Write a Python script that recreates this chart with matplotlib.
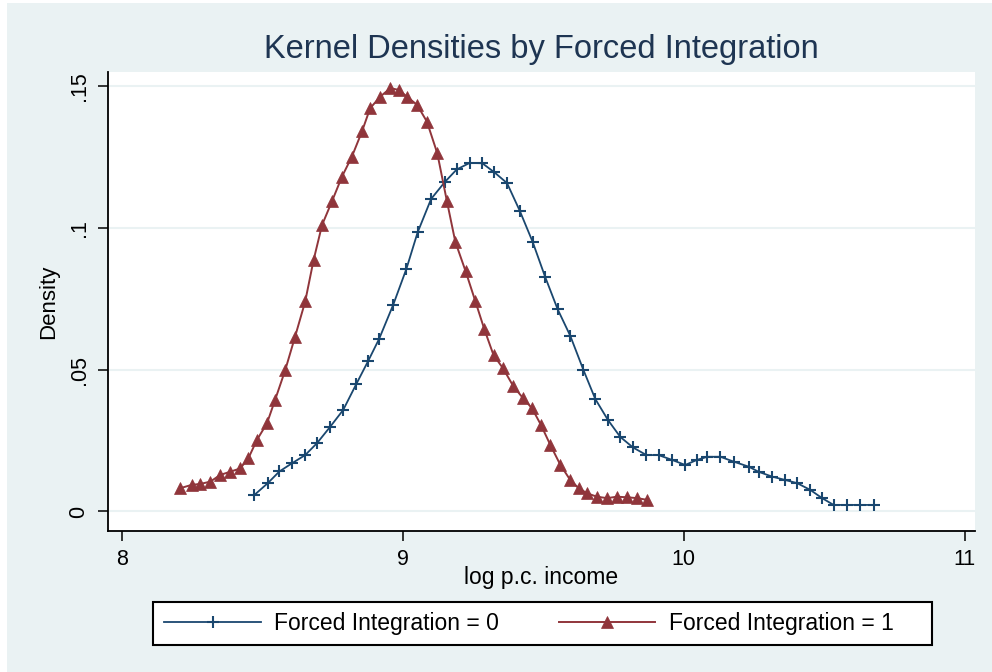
import numpy as np
import matplotlib
matplotlib.use("Agg")
import matplotlib.pyplot as plt
from matplotlib.patches import Rectangle

plt.rcParams['font.family'] = ['Liberation Sans', 'DejaVu Sans']

# Forced Integration = 0 (kdensity, 50 points)
x_fi0 = [8.472, 8.520, 8.561, 8.606, 8.653, 8.695, 8.742, 8.788, 8.835, 8.877,
         8.916, 8.966, 9.013, 9.053, 9.101, 9.150, 9.192, 9.238, 9.283, 9.326,
         9.371, 9.416, 9.462, 9.507, 9.551, 9.596, 9.643, 9.685, 9.730, 9.774,
         9.819, 9.867, 9.910, 9.958, 10.005, 10.047, 10.084, 10.130, 10.177, 10.231,
         10.266, 10.314, 10.361, 10.403, 10.450, 10.492, 10.533, 10.581, 10.628, 10.675]
y_fi0 = [0.0058, 0.0100, 0.0141, 0.0170, 0.0199, 0.0241, 0.0299, 0.0358, 0.0450, 0.0531,
         0.0609, 0.0729, 0.0856, 0.0985, 0.1103, 0.1163, 0.1207, 0.1230, 0.1229, 0.1197,
         0.1159, 0.1062, 0.0952, 0.0827, 0.0714, 0.0620, 0.0499, 0.0397, 0.0323, 0.0263,
         0.0226, 0.0199, 0.0199, 0.0182, 0.0164, 0.0182, 0.0193, 0.0193, 0.0176, 0.0158,
         0.0140, 0.0123, 0.0111, 0.0100, 0.0076, 0.0047, 0.0023, 0.0023, 0.0023, 0.0023]

# Forced Integration = 1
x_fi1 = [8.208, 8.250, 8.279, 8.315, 8.351, 8.386, 8.422, 8.451, 8.481, 8.517,
         8.546, 8.582, 8.617, 8.653, 8.683, 8.713, 8.748, 8.784, 8.819, 8.855,
         8.884, 8.920, 8.956, 8.985, 9.015, 9.051, 9.086, 9.123, 9.157, 9.187,
         9.224, 9.258, 9.290, 9.323, 9.357, 9.394, 9.428, 9.460, 9.492, 9.525,
         9.561, 9.596, 9.626, 9.656, 9.691, 9.727, 9.762, 9.798, 9.834, 9.869]
y_fi1 = [0.0082, 0.0094, 0.0097, 0.0105, 0.0129, 0.0140, 0.0152, 0.0188, 0.0252, 0.0311,
         0.0394, 0.0499, 0.0617, 0.0741, 0.0888, 0.1011, 0.1094, 0.1182, 0.1252, 0.1341,
         0.1423, 0.1464, 0.1494, 0.1488, 0.1464, 0.1435, 0.1376, 0.1264, 0.1096, 0.0952,
         0.0847, 0.0743, 0.0644, 0.0552, 0.0505, 0.0441, 0.0400, 0.0364, 0.0305, 0.0235,
         0.0164, 0.0111, 0.0082, 0.0064, 0.0052, 0.0047, 0.0052, 0.0050, 0.0047, 0.0041]

xticks = [8, 9, 10, 11]
yticks = [0, 0.05, 0.1, 0.15]
ytick_labels = ['0', '.05', '.1', '.15']

bg = '#eaf2f3'
navy = '#1a476f'
maroon = '#90353b'

fig = plt.figure(figsize=(9.92, 6.72), dpi=100, facecolor='white')
fig.patches.append(Rectangle((7 / 992, 0), 1, 1 - 3 / 672, transform=fig.transFigure,
                             facecolor=bg, edgecolor='none', zorder=-10))
ax = fig.add_axes([107.6 / 992, 1 - 531 / 672, (975 - 107.6) / 992, (531 - 72) / 672])
ax.set_facecolor('white')

ax.plot(x_fi0, y_fi0, color=navy, lw=1.3, marker='+', markersize=9, mew=1.5,
        label='Forced Integration = 0')
ax.plot(x_fi1, y_fi1, color=maroon, lw=1.4, marker='^', markersize=8.2, mew=0.5,
        label='Forced Integration = 1')

ax.set_xlim(7.95, 11.036)
ax.set_ylim(-0.0069, 0.1551)
ax.set_xticks(xticks)
ax.set_xticklabels([str(t) for t in xticks])
ax.set_yticks(yticks)
ax.set_yticklabels(ytick_labels, rotation=90, va='center')
ax.yaxis.grid(True, color=bg, lw=1.5)
ax.set_axisbelow(True)

for s in ['top', 'right']:
    ax.spines[s].set_visible(False)
for s in ['left', 'bottom']:
    ax.spines[s].set_color('black')
    ax.spines[s].set_linewidth(1.3)
ax.tick_params(axis='both', length=7, width=1.1, labelsize=15.5, colors='black', pad=6)

ax.set_xlabel('log p.c. income', fontsize=16.5, labelpad=-3)
ax.set_ylabel('Density', fontsize=16)
ax.yaxis.set_label_coords(-0.056, 0.5)
ax.set_title('Kernel Densities by Forced Integration', fontsize=23.5, color='#1e3552', pad=10)

# legend box drawn separately so it keeps the wide right padding
fig.patches.append(Rectangle((153 / 992, 1 - 645 / 672), 779 / 992, 43 / 672,
                             transform=fig.transFigure, facecolor='white',
                             edgecolor='black', lw=1.5, zorder=1))
leg = fig.legend(loc='center left', bbox_to_anchor=(153 / 992, 1 - 623.5 / 672), ncol=2,
                 fontsize=16.5, numpoints=1, handlelength=4.2, columnspacing=2.6,
                 frameon=False, borderpad=0, handletextpad=0.6)
for h in leg.legend_handles:
    h.set_markersize(9)

fig.savefig('out.png', dpi=100, facecolor=fig.get_facecolor())
